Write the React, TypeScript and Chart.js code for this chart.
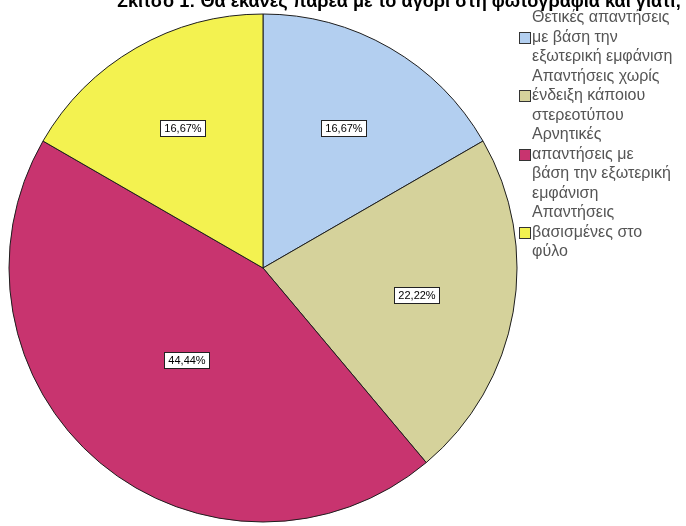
import React, { useEffect, useRef } from "react";
import { Chart, registerables } from "chart.js";

Chart.register(...registerables);

const titleText = "Σκίτσο 1: Θα έκανες παρέα με το αγόρι στη φωτογραφία και γιατί;";
const categories: string[][] = [
  ["Θετικές απαντήσεις", "με βάση την", "εξωτερική εμφάνιση"],
  ["Απαντήσεις χωρίς", "ένδειξη κάποιου", "στερεοτύπου"],
  ["Αρνητικές", "απαντήσεις με", "βάση την εξωτερική", "εμφάνιση"],
  ["Απαντήσεις", "βασισμένες στο", "φύλο"],
];
const values = [16.67, 22.22, 44.44, 16.67];
const valueLabels = ["16,67%", "22,22%", "44,44%", "16,67%"];
const colors = ["#b3cff0", "#d5d29b", "#c8346f", "#f3f250"];
const FONT = "'Liberation Sans', Arial, sans-serif";

const overlayPlugin = {
  id: "overlay",
  afterDraw(chart: any) {
    const ctx = chart.ctx as CanvasRenderingContext2D;
    ctx.save();
    // title (clipped at top as in the reference)
    let size = 17;
    ctx.font = `bold ${size}px ${FONT}`;
    const w = ctx.measureText(titleText).width;
    size = size * 565 / w;
    ctx.font = `bold ${size}px ${FONT}`;
    ctx.fillStyle = "#000";
    ctx.textAlign = "left";
    ctx.textBaseline = "alphabetic";
    ctx.fillText(titleText, 117, 7);

    // value labels
    const meta = chart.getDatasetMeta(0);
    meta.data.forEach((arc: any, i: number) => {
      const { x, y, startAngle, endAngle, outerRadius } = arc.getProps(
        ["x", "y", "startAngle", "endAngle", "outerRadius"], true);
      const half = (endAngle - startAngle) / 2;
      const mid = startAngle + half;
      const d = (2 * outerRadius * Math.sin(half)) / (3 * half);
      const cx = x + Math.cos(mid) * d;
      const cy = y + Math.sin(mid) * d;
      ctx.font = `11px ${FONT}`;
      const tw = ctx.measureText(valueLabels[i]).width;
      const bw = Math.round(tw + 8);
      const bh = 16;
      const bx = Math.round(cx - bw / 2) + 0.5;
      const by = Math.round(cy - bh / 2) + 0.5;
      ctx.fillStyle = "#fff";
      ctx.fillRect(bx, by, bw, bh);
      ctx.strokeStyle = "#222";
      ctx.lineWidth = 1;
      ctx.strokeRect(bx, by, bw, bh);
      ctx.fillStyle = "#000";
      ctx.textAlign = "center";
      ctx.textBaseline = "middle";
      ctx.fillText(valueLabels[i], bx + bw / 2, by + bh / 2 + 0.5);
    });

    // legend
    const lineH = 19.5;
    let line = 0;
    const legendX = 519;
    const textX = 532;
    ctx.font = `16px ${FONT}`;
    ctx.textAlign = "left";
    ctx.textBaseline = "middle";
    categories.forEach((lines, i) => {
      const y0 = 18 + line * lineH;
      lines.forEach((t, j) => {
        ctx.fillStyle = "#555";
        ctx.fillText(t, textX, y0 + j * lineH);
      });
      const by = Math.round(y0 + lineH - 6);
      ctx.fillStyle = colors[i];
      ctx.fillRect(legendX + 0.5, by + 0.5, 11, 11);
      ctx.strokeStyle = "#333";
      ctx.strokeRect(legendX + 0.5, by + 0.5, 11, 11);
      line += lines.length;
    });
    ctx.restore();
  },
};

export default function App() {
  const ref = useRef<HTMLCanvasElement>(null);
  useEffect(() => {
    if (!ref.current) return;
    const chart = new Chart(ref.current, {
      type: "pie",
      data: {
        labels: categories.map((c) => c.join(" ")),
        datasets: [
          {
            data: values,
            backgroundColor: colors,
            borderColor: "#1e1e1e",
            borderWidth: 1,
          },
        ],
      },
      options: {
        animation: false,
        responsive: false,
        radius: 254,
        layout: { padding: { left: 9, right: 169, top: 14, bottom: 4 } },
        plugins: {
          legend: { display: false },
          tooltip: { enabled: false },
          title: { display: false },
        },
      },
      plugins: [overlayPlugin],
    });
    return () => chart.destroy();
  }, []);
  return (
    <div style={{ position: "fixed", left: 0, top: 0, width: 686, height: 526, background: "#fff" }}>
      <canvas ref={ref} width={686} height={526} />
    </div>
  );
}
